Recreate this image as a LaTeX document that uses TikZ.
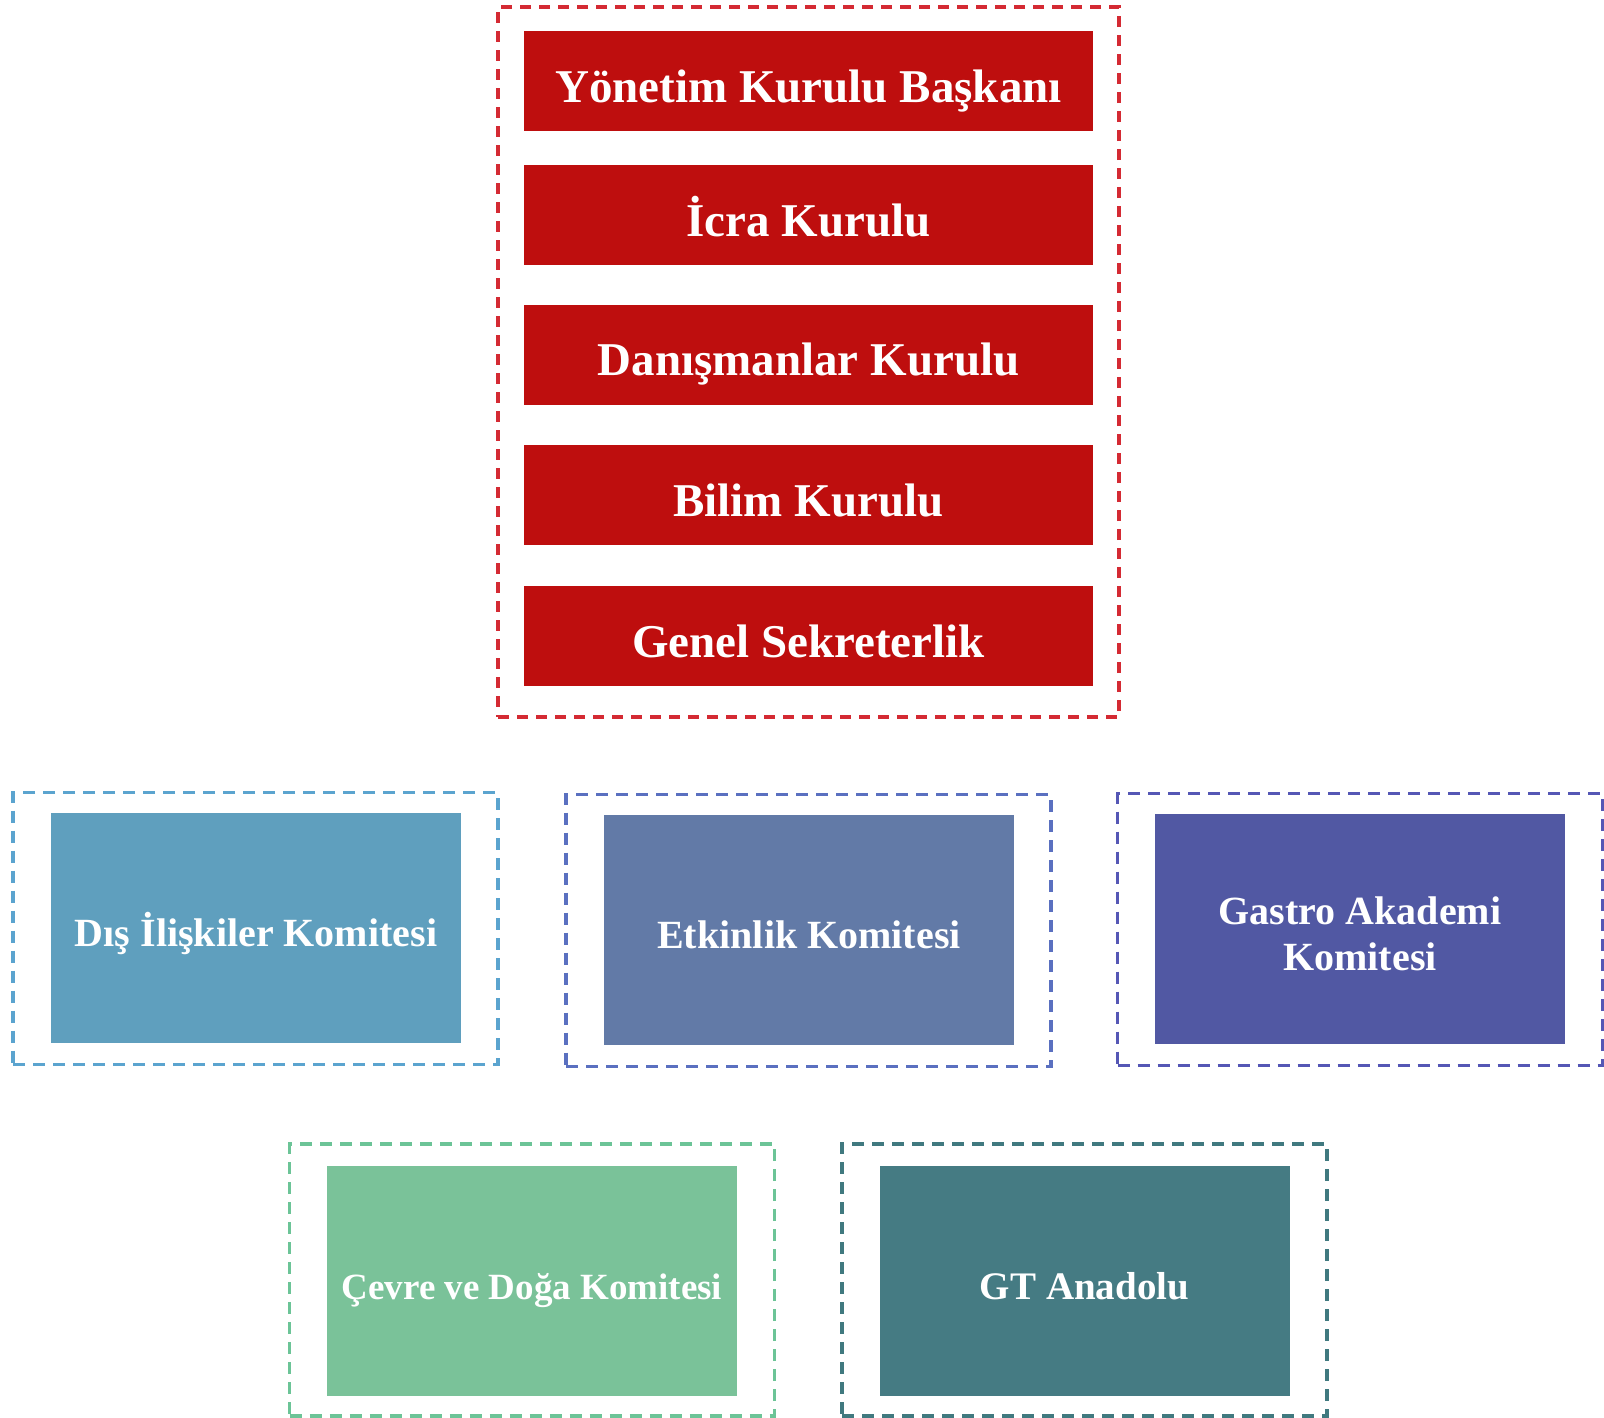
\documentclass[tikz,border=0pt]{standalone}
\usepackage{fontspec}
\setmainfont{Liberation Serif}
\definecolor{redfill}{HTML}{BE0E0E}
\definecolor{redline}{HTML}{D42A33}
\definecolor{bafill}{HTML}{5F9FBE}
\definecolor{baline}{HTML}{5BA4CF}
\definecolor{bbfill}{HTML}{627AA7}
\definecolor{bbline}{HTML}{5A70C0}
\definecolor{bcfill}{HTML}{5158A3}
\definecolor{bcline}{HTML}{5557B5}
\definecolor{grfill}{HTML}{7AC299}
\definecolor{grline}{HTML}{6CC497}
\definecolor{tlfill}{HTML}{457B83}
\definecolor{tlline}{HTML}{40797F}
\tikzset{
  redbox/.style={fill=redfill, text=white, font=\bfseries\fontsize{47}{52}\selectfont,
    minimum width=569pt, minimum height=100pt, inner sep=0pt,
    text height=42pt, text depth=0pt},
  comfont/.style={text=white, font=\bfseries\fontsize{40}{46}\selectfont},
  combox/.style={comfont, minimum width=410pt, minimum height=230pt, inner sep=0pt,
    text height=37pt, text depth=0pt},
  frame/.style={draw, dashed, line width=3.2pt, dash pattern=on 12pt off 8pt,
    minimum width=485pt, minimum height=272pt, inner sep=0pt}
}
\begin{document}
\begin{tikzpicture}[x=1pt,y=-1pt]
\useasboundingbox (0,0) rectangle (1604,1417);
% top group
\node[draw=redline, dashed, line width=3.2pt, dash pattern=on 11pt off 8pt,
  minimum width=621pt, minimum height=710pt, inner sep=0pt] (topframe) at (808.5,362) {};
\node[redbox] (ykb) at (808.5,81) {Yönetim Kurulu Başkanı};
\node[redbox] (icra) at (808.5,215) {İcra Kurulu};
\node[redbox] (danis) at (808.5,354.5) {Danışmanlar Kurulu};
\node[redbox] (bilim) at (808.5,495) {Bilim Kurulu};
\node[redbox] (genel) at (808.5,636) {Genel Sekreterlik};
% row 2
\node[frame, draw=baline] (fa) at (255.5,928.5) {};
\node[combox, fill=bafill] (dis) at (256,928) {Dış İlişkiler Komitesi};
\node[frame, draw=bbline] (fb) at (808.5,930.5) {};
\node[combox, fill=bbfill] (etk) at (809,930) {Etkinlik Komitesi};
\node[frame, draw=bcline] (fc) at (1360,929.5) {};
\node[combox, fill=bcfill,
  label={[comfont, align=center, yshift=-5pt]center:Gastro Akademi\\Komitesi}] (gas) at (1360,929) {};
% row 3
\node[frame, draw=grline] (fd) at (532,1280) {};
\node[combox, fill=grfill, font=\bfseries\fontsize{37}{44}\selectfont] (cev) at (532,1280.5) {Çevre ve Doğa Komitesi};
\node[frame, draw=tlline] (fe) at (1084.5,1280) {};
\node[combox, fill=tlfill, font=\bfseries\fontsize{39}{44}\selectfont] (gt) at (1084.5,1280.5) {GT Anadolu};
\end{tikzpicture}
\end{document}
